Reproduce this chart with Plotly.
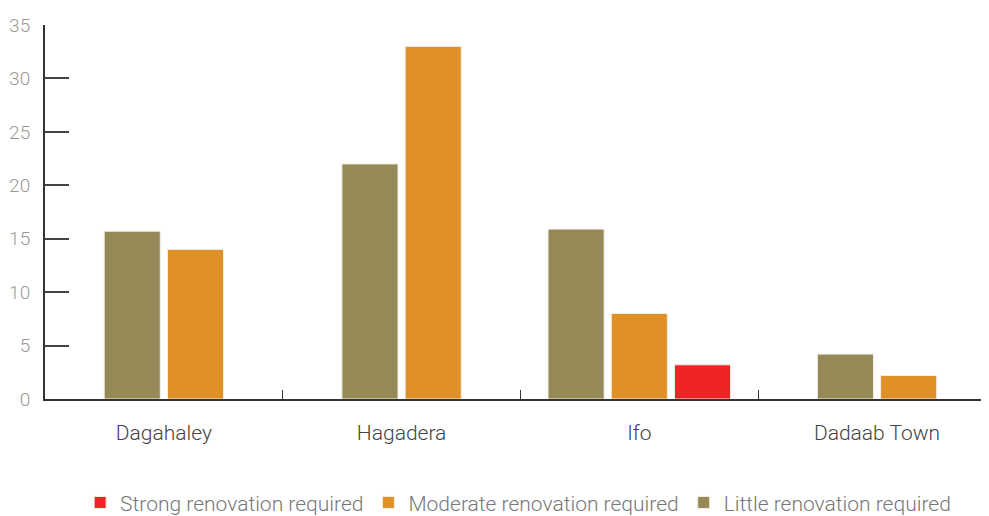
import plotly.graph_objects as go

categories = ["Dagahaley", "Hagadera", "Ifo", "Dadaab Town"]
series_names = ["Little renovation required", "Moderate renovation required", "Strong renovation required"]
little = [15.7, 22, 15.9, 4.2]
moderate = [14, 33, 8, 2.2]
strong = [None, None, 3.2, None]
colors = ["#958957", "#DF9027", "#EE2326"]
y_ticks = [0, 5, 10, 15, 20, 25, 30, 35]

series_values = [little, moderate, strong]

bar_w = 0.236
gap = 0.03
step = bar_w + gap

# compute offsets so that present bars in each category are centered
offsets = [[0.0] * len(categories) for _ in series_values]
for ci in range(len(categories)):
    present = [si for si, vals in enumerate(series_values) if vals[ci] is not None]
    n = len(present)
    total = n * bar_w + (n - 1) * gap
    for k, si in enumerate(present):
        offsets[si][ci] = -total / 2 + k * step

fig = go.Figure()
for name, vals, col, off in zip(series_names, series_values, colors, offsets):
    fig.add_trace(go.Bar(
        x=categories, y=vals, name=name,
        marker=dict(color=col, line=dict(color="#f3efe4", width=1)),
        width=bar_w, offset=off,
    ))

fig.update_layout(
    width=981, height=508,
    margin=dict(l=37, r=0, t=17, b=117, autoexpand=False),
    barmode="overlay",
    plot_bgcolor="white", paper_bgcolor="white",
    font=dict(family="Roboto", weight=300),
    showlegend=True,
    legend=dict(
        orientation="h", traceorder="reversed",
        x=0.52, xanchor="center", xref="container",
        y=0.026, yanchor="middle", yref="container",
        font=dict(family="Roboto", size=21, color="#777777", weight=300),
    ),
)
fig.update_xaxes(
    type="category", range=[-0.5, 3.471], automargin=False,
    showline=True, linecolor="#333333", linewidth=2,
    ticks="inside", tickson="boundaries", ticklen=9, tickcolor="#333333", tickwidth=1,
    showgrid=False, zeroline=False,
    tickfont=dict(family="Roboto", size=21, color="#444444", weight=300),
    ticklabelstandoff=14,
)
fig.update_yaxes(
    range=[0, 35], tickvals=y_ticks, automargin=False,
    showline=True, linecolor="#333333", linewidth=2,
    ticks="inside", ticklen=24, tickcolor="#444444", tickwidth=1.5,
    showgrid=False, zeroline=False,
    tickfont=dict(family="Roboto", size=19, color="#999999", weight=300),
    ticklabelstandoff=9,
)

fig.write_html("out.html")
